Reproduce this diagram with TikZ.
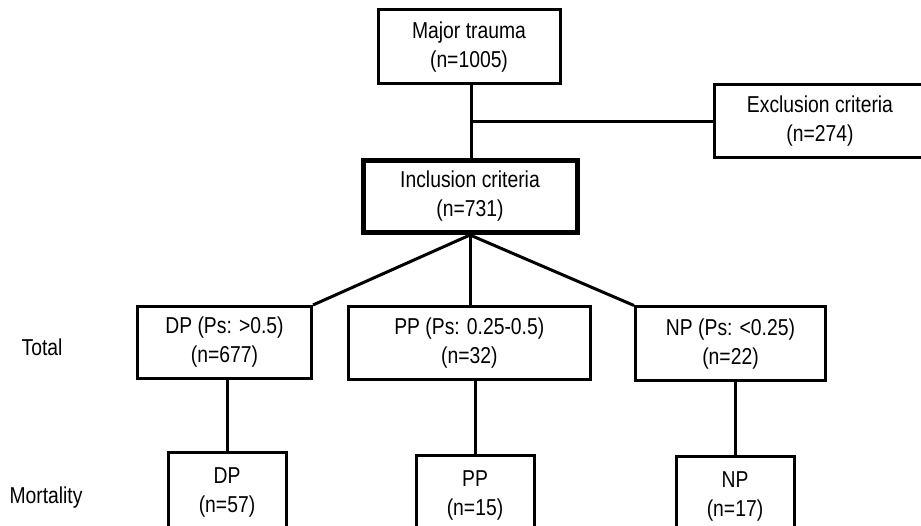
\documentclass[tikz,border=0pt]{standalone}
\usepackage{fontspec}
\setmainfont{Liberation Sans}[FakeStretch=0.84]
\usetikzlibrary{backgrounds}

\tikzset{
  flowbox/.style={draw,line width=3pt,fill=white,inner sep=0pt,align=center,
    font=\fontsize{23}{29}\selectfont},
  mainbox/.style={flowbox,line width=5pt},
  rowtag/.style={font=\fontsize{23}{29}\selectfont},
  link/.style={line width=3pt}
}

\begin{document}
\begin{tikzpicture}[x=1pt,y=-1pt]
            \clip (0,0) rectangle (921,526);
            % Main components
            \node[flowbox,minimum width=182pt,minimum height=74.5pt] (major) at (469,46.75) {Major trauma\\(n=1005)};
            \node[flowbox,minimum width=212pt,minimum height=73pt] (excl) at (820,121.5) {Exclusion criteria\\(n=274)};
            \node[mainbox,minimum width=214pt,minimum height=72pt] (incl) at (470,196.5) {Inclusion criteria\\(n=731)};
            
            \node[flowbox,minimum width=174pt,minimum height=72pt] (dp) at (224.5,342.5) {DP (Ps: >0.5)\\(n=677)};
            \node[flowbox,minimum width=242pt,minimum height=73pt] (pp) at (469.3,343.3) {PP (Ps: 0.25-0.5)\\(n=32)};
            \node[flowbox,minimum width=190pt,minimum height=74pt] (np) at (730.5,344) {NP (Ps: <0.25)\\(n=22)};
            
            \node[flowbox,minimum width=118pt,minimum height=80pt] (dpm) at (227,492) {DP\\(n=57)};
            \node[flowbox,minimum width=118pt,minimum height=80pt] (ppm) at (475,495) {PP\\(n=15)};
            \node[flowbox,minimum width=118pt,minimum height=80pt] (npm) at (735,496) {NP\\(n=17)};
            
            % Row labels
            \node[rowtag] (total) at (42,347) {Total};
            \node[rowtag] (mort) at (46,498) {Mortality};
            
            % Connections
            \coordinate (split) at (471.5,121.5);
            \begin{scope}[on background layer]
            \draw[link] (split |- major.south) -- (split |- incl.north);
            \draw[link] (split) -- (excl.west);
            \draw[link] (incl.south) -- (dp.north east);
            \draw[link] (incl.south) -- (incl.south |- pp.north);
            \draw[link] (incl.south) -- (np.north west);
            \draw[link] (dpm.north |- dp.south) -- (dpm.north);
            \draw[link] (ppm.north |- pp.south) -- (ppm.north);
            \draw[link] (npm.north |- np.south) -- (npm.north);
            \end{scope}
        \end{tikzpicture}
\end{document}
